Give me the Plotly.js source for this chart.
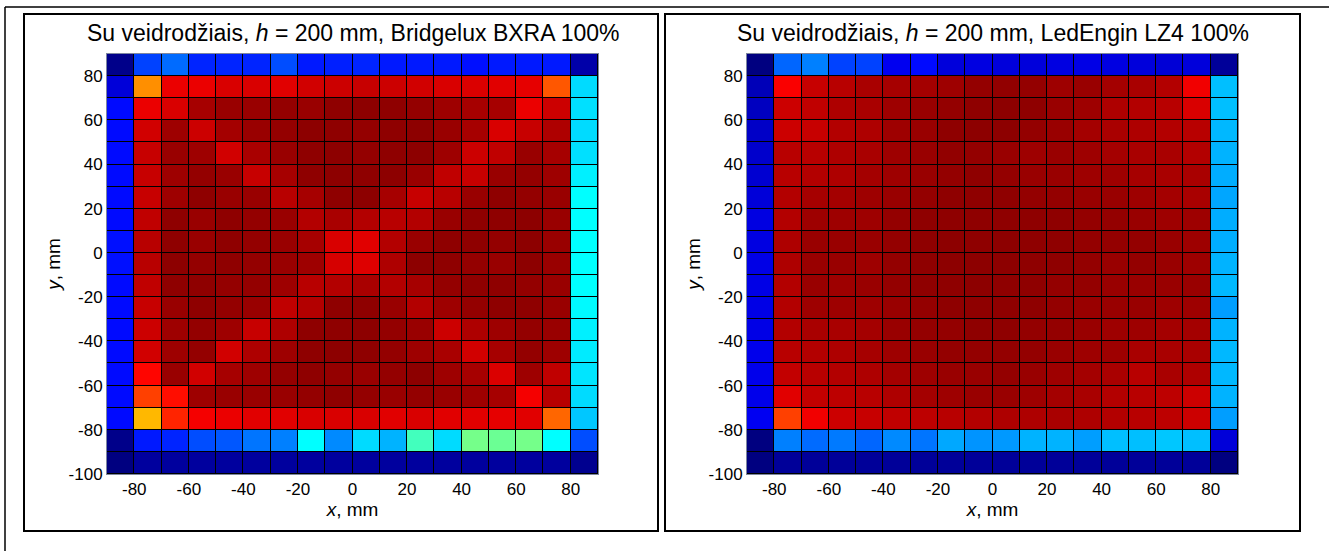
<!DOCTYPE html>
<html>
<head>
<meta charset="utf-8">
<script src="https://cdn.plot.ly/plotly-3.0.1.min.js"></script>
<style>
  html, body { margin: 0; padding: 0; background: #ffffff; }
  #chart { width: 1329px; height: 551px; }
</style>
</head>
<body>
<div id="chart"></div>
<script>
// Measurement grid: 10 mm cells, centre coordinates in mm
const xCenters = [-85, -75, -65, -55, -45, -35, -25, -15, -5, 5, 15, 25, 35, 45, 55, 65, 75, 85];
const yCenters = [85, 75, 65, 55, 45, 35, 25, 15, 5, -5, -15, -25, -35, -45, -55, -65, -75, -85, -95];

const xTicks = [-80, -60, -40, -20, 0, 20, 40, 60, 80];
const yTicks = [-100, -80, -60, -40, -20, 0, 20, 40, 60, 80];

const panelTitles = [
  "Su veidrodžiais, <i>h</i> = 200 mm, Bridgelux BXRA 100%",
  "Su veidrodžiais, <i>h</i> = 200 mm, LedEngin LZ4 100%"
];
const xTitle = "<i>x</i>, mm";
const yTitle = "<i>y</i>, mm";

// Relative irradiance, rows from y = 85 down to y = -95
const bxra = [
  [0.01, 0.19, 0.23, 0.16, 0.16, 0.16, 0.20, 0.15, 0.155, 0.16, 0.15, 0.15, 0.15, 0.14, 0.15, 0.15, 0.15, 0.04],
  [0.0875, 0.735, 0.895, 0.895, 0.9125, 0.9125, 0.905, 0.92, 0.925, 0.93, 0.925, 0.92, 0.9125, 0.91, 0.905, 0.9, 0.79, 0.34],
  [0.135, 0.895, 0.9125, 0.9625, 0.975, 0.975, 0.98, 0.975, 0.985, 0.9875, 0.985, 0.98, 0.97, 0.9625, 0.9625, 0.895, 0.925, 0.345],
  [0.135, 0.92, 0.97, 0.925, 0.965, 0.975, 0.98, 0.9875, 0.985, 0.98, 0.985, 0.9875, 0.975, 0.9625, 0.9125, 0.93, 0.955, 0.34],
  [0.135, 0.93, 0.975, 0.97, 0.92, 0.96, 0.975, 0.985, 0.9875, 0.98, 0.985, 0.9875, 0.97, 0.925, 0.9375, 0.975, 0.9625, 0.345],
  [0.135, 0.93, 0.97, 0.98, 0.975, 0.93, 0.9625, 0.985, 0.9875, 0.985, 0.9875, 0.975, 0.9375, 0.93, 0.975, 0.98, 0.97, 0.36],
  [0.135, 0.93, 0.97, 0.985, 0.975, 0.975, 0.945, 0.9625, 0.985, 0.9875, 0.9625, 0.93, 0.945, 0.975, 0.985, 0.98, 0.975, 0.375],
  [0.135, 0.9375, 0.985, 0.975, 0.985, 0.98, 0.975, 0.95, 0.96, 0.95, 0.945, 0.95, 0.975, 0.985, 0.985, 0.9875, 0.975, 0.375],
  [0.14, 0.945, 0.985, 0.975, 0.985, 0.98, 0.975, 0.9625, 0.9125, 0.905, 0.95, 0.975, 0.985, 0.985, 0.98, 0.9875, 0.975, 0.375],
  [0.14, 0.945, 0.9875, 0.98, 0.985, 0.98, 0.975, 0.97, 0.915, 0.9075, 0.955, 0.9875, 0.985, 0.98, 0.975, 0.9875, 0.975, 0.375],
  [0.135, 0.9375, 0.985, 0.985, 0.98, 0.98, 0.97, 0.945, 0.95, 0.96, 0.95, 0.9625, 0.98, 0.985, 0.985, 0.98, 0.975, 0.375],
  [0.135, 0.93, 0.975, 0.985, 0.98, 0.975, 0.9375, 0.95, 0.985, 0.985, 0.975, 0.95, 0.97, 0.98, 0.985, 0.985, 0.975, 0.37],
  [0.135, 0.925, 0.97, 0.98, 0.97, 0.93, 0.955, 0.985, 0.985, 0.9875, 0.98, 0.975, 0.925, 0.955, 0.97, 0.98, 0.975, 0.36],
  [0.135, 0.92, 0.97, 0.98, 0.92, 0.955, 0.97, 0.985, 0.9875, 0.985, 0.98, 0.97, 0.96, 0.92, 0.9625, 0.98, 0.97, 0.355],
  [0.135, 0.87, 0.975, 0.92, 0.9625, 0.97, 0.98, 0.985, 0.98, 0.975, 0.98, 0.9875, 0.97, 0.9625, 0.91, 0.97, 0.9375, 0.35],
  [0.135, 0.8125, 0.8625, 0.97, 0.975, 0.975, 0.975, 0.98, 0.985, 0.98, 0.975, 0.98, 0.975, 0.97, 0.9625, 0.885, 0.945, 0.34],
  [0.135, 0.695, 0.84, 0.885, 0.895, 0.905, 0.905, 0.9125, 0.9125, 0.9125, 0.905, 0.9125, 0.905, 0.905, 0.9, 0.905, 0.775, 0.32],
  [0.01, 0.15, 0.16, 0.2, 0.21, 0.24, 0.25, 0.375, 0.26, 0.34, 0.3, 0.44, 0.34, 0.49, 0.48, 0.49, 0.375, 0.2],
  [0.0, 0.03, 0.03, 0.03, 0.03, 0.03, 0.03, 0.03, 0.03, 0.03, 0.03, 0.03, 0.03, 0.03, 0.03, 0.03, 0.03, 0.015]
];

const lz4 = [
  [0.0, 0.225, 0.25, 0.19, 0.19, 0.11, 0.135, 0.09, 0.095, 0.09, 0.09, 0.095, 0.1, 0.095, 0.09, 0.085, 0.09, 0.025],
  [0.055, 0.88, 0.93, 0.945, 0.96, 0.9625, 0.965, 0.97, 0.98, 0.9825, 0.98, 0.97, 0.975, 0.965, 0.96, 0.95, 0.8875, 0.3125],
  [0.0625, 0.925, 0.9375, 0.955, 0.96, 0.97, 0.975, 0.98, 0.985, 0.9875, 0.985, 0.975, 0.97, 0.955, 0.95, 0.945, 0.9125, 0.3125],
  [0.07, 0.925, 0.93, 0.95, 0.955, 0.97, 0.975, 0.985, 0.9875, 0.9875, 0.98, 0.975, 0.965, 0.96, 0.955, 0.95, 0.945, 0.305],
  [0.075, 0.945, 0.945, 0.955, 0.96, 0.97, 0.975, 0.9825, 0.98, 0.975, 0.97, 0.975, 0.97, 0.965, 0.96, 0.96, 0.95, 0.3],
  [0.08, 0.945, 0.95, 0.955, 0.965, 0.97, 0.975, 0.98, 0.985, 0.98, 0.975, 0.975, 0.97, 0.97, 0.9625, 0.96, 0.96, 0.295],
  [0.0875, 0.95, 0.9625, 0.965, 0.97, 0.975, 0.98, 0.985, 0.985, 0.985, 0.98, 0.98, 0.975, 0.975, 0.97, 0.965, 0.96, 0.2875],
  [0.095, 0.95, 0.97, 0.97, 0.97, 0.98, 0.985, 0.985, 0.985, 0.985, 0.985, 0.985, 0.98, 0.98, 0.975, 0.97, 0.97, 0.295],
  [0.095, 0.955, 0.975, 0.975, 0.975, 0.98, 0.985, 0.9875, 0.985, 0.9875, 0.985, 0.985, 0.98, 0.98, 0.98, 0.975, 0.97, 0.295],
  [0.1, 0.955, 0.975, 0.975, 0.97, 0.98, 0.985, 0.9875, 0.9875, 0.9875, 0.985, 0.985, 0.98, 0.975, 0.98, 0.975, 0.97, 0.3],
  [0.1, 0.95, 0.975, 0.97, 0.975, 0.98, 0.985, 0.985, 0.9875, 0.985, 0.985, 0.98, 0.98, 0.975, 0.975, 0.975, 0.975, 0.305],
  [0.1, 0.95, 0.97, 0.97, 0.97, 0.975, 0.98, 0.985, 0.985, 0.985, 0.985, 0.98, 0.975, 0.975, 0.975, 0.97, 0.97, 0.28],
  [0.1, 0.95, 0.96, 0.96, 0.965, 0.975, 0.98, 0.98, 0.985, 0.985, 0.98, 0.98, 0.975, 0.97, 0.97, 0.965, 0.965, 0.3],
  [0.105, 0.945, 0.95, 0.955, 0.9625, 0.97, 0.975, 0.98, 0.98, 0.98, 0.98, 0.975, 0.97, 0.97, 0.96, 0.96, 0.96, 0.305],
  [0.105, 0.935, 0.945, 0.95, 0.955, 0.965, 0.97, 0.975, 0.975, 0.98, 0.975, 0.97, 0.965, 0.96, 0.945, 0.96, 0.955, 0.305],
  [0.105, 0.905, 0.935, 0.94, 0.945, 0.955, 0.965, 0.97, 0.975, 0.975, 0.97, 0.965, 0.96, 0.95, 0.945, 0.94, 0.925, 0.3],
  [0.1125, 0.8125, 0.8875, 0.925, 0.93, 0.9375, 0.94, 0.945, 0.95, 0.955, 0.955, 0.96, 0.955, 0.95, 0.945, 0.94, 0.925, 0.28],
  [0.0, 0.25, 0.23, 0.245, 0.225, 0.26, 0.24, 0.29, 0.27, 0.275, 0.3, 0.3, 0.28, 0.3125, 0.3125, 0.32, 0.3125, 0.0875],
  [0.0, 0.025, 0.025, 0.025, 0.025, 0.025, 0.025, 0.025, 0.025, 0.025, 0.025, 0.025, 0.025, 0.025, 0.025, 0.025, 0.025, 0.0]
];

// MATLAB-style "jet" colour map
const jet = [
  [0.0, "rgb(0,0,128)"],
  [0.125, "rgb(0,0,255)"],
  [0.375, "rgb(0,255,255)"],
  [0.625, "rgb(255,255,0)"],
  [0.875, "rgb(255,0,0)"],
  [1.0, "rgb(128,0,0)"]
];

const W = 1329, H = 551;
const px = v => v / W;
const py = v => 1 - v / H;

const FONT = "Liberation Sans, Arial, Helvetica, sans-serif";

function heat(z, xa, ya) {
  return {
    type: "heatmap",
    x: xCenters, y: yCenters, z: z,
    xaxis: xa, yaxis: ya,
    colorscale: jet, zmin: 0, zmax: 1,
    showscale: false,
    xgap: 1, ygap: 1,
    hoverinfo: "skip"
  };
}

function xAxis(domain, anchor) {
  return {
    domain: domain, anchor: anchor,
    range: [-90, 90], tickvals: xTicks, ticktext: xTicks.map(String),
    ticks: "", showgrid: false, zeroline: false,
    showline: true, mirror: true, linecolor: "#7d86a0", linewidth: 1,
    tickfont: { family: FONT, size: 17, color: "#000" },
    title: { text: xTitle, font: { family: FONT, size: 19, color: "#000" }, standoff: 0 },
    fixedrange: true
  };
}
function yAxis(domain, anchor) {
  return {
    domain: domain, anchor: anchor,
    range: [-100, 90], tickvals: yTicks, ticktext: yTicks.map(String),
    ticks: "", showgrid: false, zeroline: false,
    showline: true, mirror: true, linecolor: "#7d86a0", linewidth: 1,
    tickfont: { family: FONT, size: 17, color: "#000" },
    title: { text: yTitle, font: { family: FONT, size: 19, color: "#000" }, standoff: 2 },
    fixedrange: true
  };
}

const yDom = [py(474), py(54)];
const leftDom = [px(107), px(598)];
const rightDom = [px(747), px(1238)];

const frameLine = { color: "#000", width: 2 };
const titleFont = { family: FONT, size: 23, color: "#000" };
const layout = {
  width: W, height: H,
  margin: { l: 0, r: 0, t: 0, b: 0 },
  paper_bgcolor: "#ffffff",
  plot_bgcolor: "#000000",
  showlegend: false,
  font: { family: FONT, color: "#000" },
  xaxis: xAxis(leftDom, "y"),
  yaxis: yAxis(yDom, "x"),
  xaxis2: xAxis(rightDom, "y2"),
  yaxis2: yAxis(yDom, "x2"),
  annotations: [
    { text: panelTitles[0], xref: "paper", yref: "paper", x: px(352.5), y: py(33),
      xanchor: "center", yanchor: "middle", showarrow: false, font: titleFont },
    { text: panelTitles[1], xref: "paper", yref: "paper", x: px(992.5), y: py(33),
      xanchor: "center", yanchor: "middle", showarrow: false, font: titleFont }
  ],
  shapes: [
    // outer border (top and left edges)
    { type: "line", xref: "paper", yref: "paper", x0: px(5), x1: 1, y0: py(7), y1: py(7),
      line: { color: "#000", width: 1.5 } },
    { type: "line", xref: "paper", yref: "paper", x0: px(5), x1: px(5), y0: py(7), y1: 0,
      line: { color: "#000", width: 1.5 } },
    // panel frames
    { type: "rect", xref: "paper", yref: "paper", x0: px(24), x1: px(658), y0: py(531), y1: py(14),
      line: frameLine },
    { type: "rect", xref: "paper", yref: "paper", x0: px(665), x1: px(1300), y0: py(531), y1: py(14),
      line: frameLine }
  ]
};

Plotly.newPlot("chart", [heat(bxra, "x", "y"), heat(lz4, "x2", "y2")], layout,
  { displayModeBar: false, staticPlot: true });
</script>
</body>
</html>
